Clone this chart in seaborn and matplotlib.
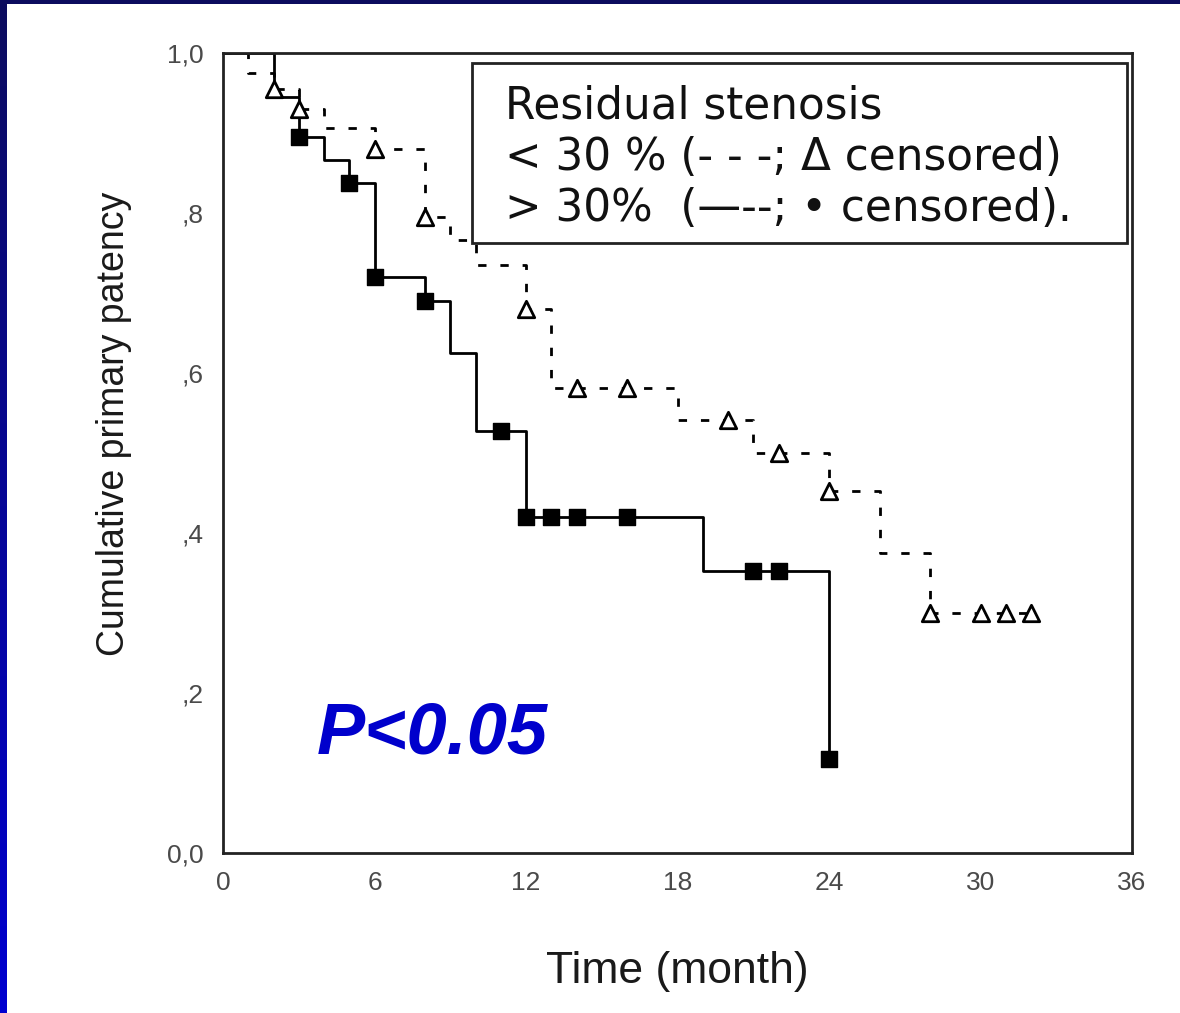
import numpy as np
import pandas as pd
import matplotlib
matplotlib.use("Agg")
import matplotlib.pyplot as plt
import seaborn as sns
from matplotlib.patches import Rectangle
from matplotlib.ticker import FixedLocator, FixedFormatter
from matplotlib.colors import LinearSegmentedColormap

# ---------------- data ----------------
# residual stenosis > 30 % (solid line, filled markers = censored)
gt30_time = [0, 2, 3, 4, 5, 6, 8, 9, 10, 12, 19, 24]
gt30_surv = [1.0, 0.945, 0.895, 0.866, 0.838, 0.72, 0.69, 0.625, 0.527, 0.42, 0.352, 0.117]
gt30_cens_time = [3, 5, 6, 8, 11, 12, 13, 14, 16, 21, 22, 24]
gt30_cens_surv = [0.895, 0.838, 0.72, 0.69, 0.527, 0.42, 0.42, 0.42, 0.42, 0.352, 0.352, 0.117]

# residual stenosis < 30 % (dashed line, open triangles = censored)
lt30_time = [0, 1, 2, 3, 4, 6, 8, 9, 10, 12, 13, 18, 21, 24, 26, 28, 32]
lt30_surv = [1.0, 0.975, 0.955, 0.93, 0.906, 0.88, 0.795, 0.766, 0.735, 0.68, 0.581,
             0.541, 0.50, 0.452, 0.375, 0.30, 0.30]
lt30_cens_time = [2, 3, 6, 8, 12, 14, 16, 20, 22, 24, 28, 30, 31, 32]
lt30_cens_surv = [0.955, 0.93, 0.88, 0.795, 0.68, 0.581, 0.581, 0.541, 0.50, 0.452,
                  0.30, 0.30, 0.30, 0.30]

x_ticks = [0, 6, 12, 18, 24, 30, 36]
x_tick_labels = ["0", "6", "12", "18", "24", "30", "36"]
y_ticks = [0.0, 0.2, 0.4, 0.6, 0.8, 1.0]
y_tick_labels = ["0,0", ",2", ",4", ",6", ",8", "1,0"]

legend_lines = ["Residual stenosis",
                "< 30 % (- - -; \u0394 censored)",
                "> 30%  (\u2014--; \u2022 censored)."]
p_text = "P<0.05"

# ---------------- style ----------------
sns.set_style("white")
plt.rcParams["font.family"] = ["DejaVu Sans"]

fig = plt.figure(figsize=(11.8, 10.13), dpi=100)
fig.patch.set_facecolor("white")

W, H = 1180, 1013
ax = fig.add_axes([223 / W, (H - 853) / H, 909 / W, 800 / H])

gt30 = pd.DataFrame({"time": gt30_time, "surv": gt30_surv})
lt30 = pd.DataFrame({"time": lt30_time, "surv": lt30_surv})
gt30_c = pd.DataFrame({"time": gt30_cens_time, "surv": gt30_cens_surv})
lt30_c = pd.DataFrame({"time": lt30_cens_time, "surv": lt30_cens_surv})

sns.lineplot(data=lt30, x="time", y="surv", ax=ax, color="black", linewidth=2.0,
             drawstyle="steps-post", estimator=None, sort=False)
ax.lines[-1].set_dashes([3, 5])
sns.lineplot(data=gt30, x="time", y="surv", ax=ax, color="black", linewidth=2.0,
             drawstyle="steps-post", estimator=None, sort=False)

sns.scatterplot(data=lt30_c, x="time", y="surv", ax=ax, marker="^", s=140,
                facecolor="white", edgecolor="black", linewidth=2.0, zorder=5)
sns.scatterplot(data=gt30_c, x="time", y="surv", ax=ax, marker="s", s=130,
                color="black", edgecolor="black", linewidth=1.0, zorder=5)

ax.set_xlim(0, 36)
ax.set_ylim(0, 1)
ax.xaxis.set_major_locator(FixedLocator(x_ticks))
ax.xaxis.set_major_formatter(FixedFormatter(x_tick_labels))
ax.yaxis.set_major_locator(FixedLocator(y_ticks))
ax.yaxis.set_major_formatter(FixedFormatter(y_tick_labels))

for sp in ax.spines.values():
    sp.set_visible(True)
    sp.set_color("#222222")
    sp.set_linewidth(2.0)

ax.tick_params(axis="both", direction="out", length=7, width=1.8, color="#222222",
               labelsize=17, labelcolor="#4a4a4a")
for lab in ax.get_xticklabels() + ax.get_yticklabels():
    lab.set_family(["Liberation Sans", "DejaVu Sans"])
    lab.set_fontsize(19)
ax.tick_params(axis="y", pad=7)
ax.tick_params(axis="x", pad=6)

ax.set_xlabel("Time (month)", fontsize=32, color="#1a1a1a",
              family=["Liberation Sans", "DejaVu Sans"])
ax.set_ylabel("Cumulative primary patency", fontsize=27, color="#1a1a1a",
              family=["Liberation Sans", "DejaVu Sans"])
ax.xaxis.set_label_coords(0.5, -0.122)
ax.yaxis.set_label_coords(-0.100, 0.536)

# legend box
ax.add_patch(Rectangle((9.86, 0.7625), 35.8 - 9.86, 0.9875 - 0.7625, fill=True,
                       facecolor="white", edgecolor="#222222", linewidth=2.0, zorder=6))
for txt, yy in zip(legend_lines, [0.934, 0.869, 0.806]):
    ax.text(11.17, yy, txt, fontsize=31.5, color="#111111", ha="left", va="center",
            zorder=7)

ax.text(3.7, 0.148, p_text, fontsize=52, fontweight="bold", fontstyle="italic",
        family=["Liberation Sans", "DejaVu Sans"], color="#0000cc",
        ha="left", va="center", zorder=7)

# slide border: dark top band, blue gradient on left
fig.patches.append(Rectangle((0, 1 - 4 / H), 1, 4 / H, transform=fig.transFigure,
                             facecolor="#0c0c5e", edgecolor="none", zorder=10))
bax = fig.add_axes([0, 0, 7 / W, 1])
grad = np.linspace(0, 1, 256).reshape(-1, 1)
cmap = LinearSegmentedColormap.from_list("edge", ["#0c0c5e", "#0000d0"])
bax.imshow(grad, aspect="auto", cmap=cmap, origin="upper")
bax.axis("off")

fig.savefig("out.png", dpi=100)
